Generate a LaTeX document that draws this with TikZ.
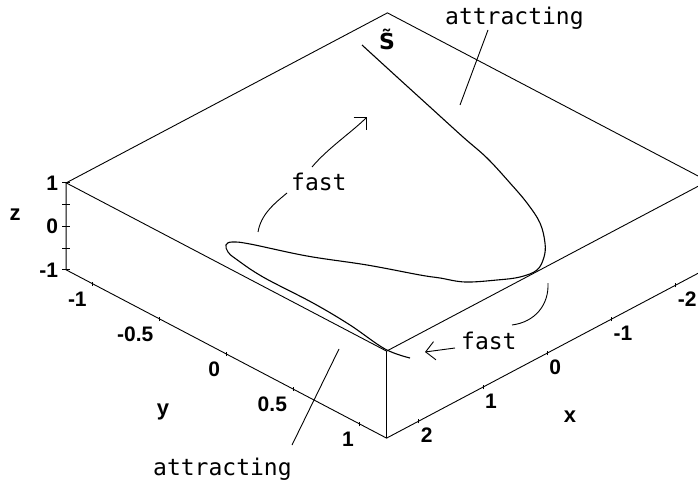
\documentclass[tikz,border=0pt]{standalone}
\usepackage{fontspec}
\usetikzlibrary{arrows.meta}
\newfontfamily\notefont{DejaVu Sans Mono}
\newfontfamily\axisfont{Liberation Sans}
\newfontfamily\markfont{DejaVu Sans}

\begin{document}
\begin{tikzpicture}[x=1pt, y=-1pt,
    edge/.style={line width=0.9pt},
    orbit/.style={line width=1.1pt},
    tickmark/.style={line width=0.9pt},
    pointer/.style={line width=0.9pt},
    fastarrow/.style={line width=0.9pt, -{Straight Barb[angle=90:13pt]}},
    ticklabel/.style={inner sep=0pt, font=\axisfont\bfseries\fontsize{21}{24}\selectfont},
    axislabel/.style={inner sep=0pt, font=\axisfont\bfseries\fontsize{22}{24}\selectfont},
    note/.style={inner sep=0pt, anchor=base west, font=\notefont\fontsize{23}{26}\selectfont}]

    % --- PARAMETERS ---
    \pgfmathsetmacro{\xMax}{2.5}     % half depth of the box (x)
    \pgfmathsetmacro{\yMax}{1.2}     % half width of the box (y)
    \pgfmathsetmacro{\tickH}{0.05}   % half tick length on x/y edges

    % frame of the picture
    \useasboundingbox (0,0) rectangle (698,489);
    \fill[white] (0,0) rectangle (698,489);
    \clip (0,0) rectangle (698,489);

    % --- BOX (x, y, z in data units) ---
    \begin{scope}[shift={(387,225.5)}, x={(-64.25pt,-34pt)}, y={(133.5pt,-70.1pt)}, z={(0pt,43.5pt)}]
        \coordinate (LT) at (\xMax,-\yMax,1);   % left top
        \coordinate (BT) at (-\xMax,-\yMax,1);  % back top
        \coordinate (RT) at (-\xMax,\yMax,1);   % right top
        \coordinate (FT) at (\xMax,\yMax,1);    % front top
        \coordinate (LB) at (\xMax,-\yMax,-1);  % left bottom
        \coordinate (FB) at (\xMax,\yMax,-1);   % front bottom
        \coordinate (RB) at (-\xMax,\yMax,-1);  % right bottom

        \draw[edge] (LT) -- (BT) -- (RT) -- (FT) -- cycle;
        \draw[edge] (LT) -- (LB) -- (FB) -- (RB);
        \draw[edge] (FT) -- (FB);

        % z axis
        \foreach \z in {-1,-0.5,0,0.5,1}
            \draw[tickmark] (\xMax,-\yMax,\z) ++(-4pt,0pt) -- ++(8pt,0pt);
        \foreach \z [count=\i] in {-1,0,1}
            \path (\xMax,-\yMax,\z) ++(-8pt,0pt) node[ticklabel, anchor=east] (zlab\i) {\z};

        % y axis
        \foreach \y [count=\i] in {-1,-0.5,0,0.5,1} {
            \draw[tickmark] (\xMax,\y,-1-\tickH) -- (\xMax,\y,-1+\tickH);
            \path (\xMax,\y,-1) ++(-6pt,-8pt) node[ticklabel, anchor=north east] (ylab\i) {\y};
        }

        % x axis
        \foreach \x [count=\i] in {2,1,0,-1,-2} {
            \draw[tickmark] (\x,\yMax,-1-\tickH) -- (\x,\yMax,-1+\tickH);
            \path (\x,\yMax,-1) ++(2pt,-7pt) node[ticklabel, anchor=north west] (xlab\i) {\x};
        }
    \end{scope}

    % axis names
    \node[axislabel] (zname) at (15,215) {z};
    \node[axislabel] (yname) at (163,412) {y};
    \node[axislabel] (xname) at (570,417) {x};

    % --- CURVE S ---
    \draw[orbit] plot[smooth, tension=0.6] coordinates {
        (362,45) (397,77) (430,107) (463,137) (487,158) (510,183) (527,203)
        (540,223) (545,243) (544,257) (537,270) (520,277) (497,280) (465,282)
        (440,278) (420,275) (367,265) (307,256) (250,244) (232,242) (226,245)
        (228,252) (236,259) (263,277) (313,303) (350,325) (385,349) (410,358)};
    \node[inner sep=0pt, font=\markfont\bfseries\fontsize{22}{24}\selectfont] (stilde) at (387,39)
        {S^^^^0303};

    % --- LABELS ---
    \node[note] (attrTop) at (445,25) {attracting};
    \node[note] (attrBot) at (153,475) {attracting};
    \node[note] (fastUp) at (291,190) {fast};
    \node[note] (fastDn) at (461,349) {fast};

    % pointers
    \coordinate (topFoot) at (488,30);
    \coordinate (topTip) at (460,105);
    \draw[pointer] (topFoot) -- (topTip);
    \coordinate (botFoot) at (292,445);
    \coordinate (botTip) at (339,349);
    \draw[pointer] (botFoot) -- (botTip);

    % fast arrows
    \coordinate (fuA) at (258,232);
    \coordinate (fuB) at (287,193);
    \coordinate (fuC) at (312,167);
    \coordinate (fuD) at (367,117);
    \draw[pointer] (fuA) .. controls (261,214) and (275,203) .. (fuB);
    \draw[fastarrow] (fuC) .. controls (328,148) and (352,132) .. (fuD);

    \coordinate (fdA) at (548,283);
    \coordinate (fdB) at (512,325);
    \coordinate (fdC) at (455,348);
    \coordinate (fdD) at (425,352);
    \draw[pointer] (fdA) .. controls (549,305) and (535,322) .. (fdB);
    \draw[fastarrow] (fdC) -- (fdD);
\end{tikzpicture}
\end{document}
